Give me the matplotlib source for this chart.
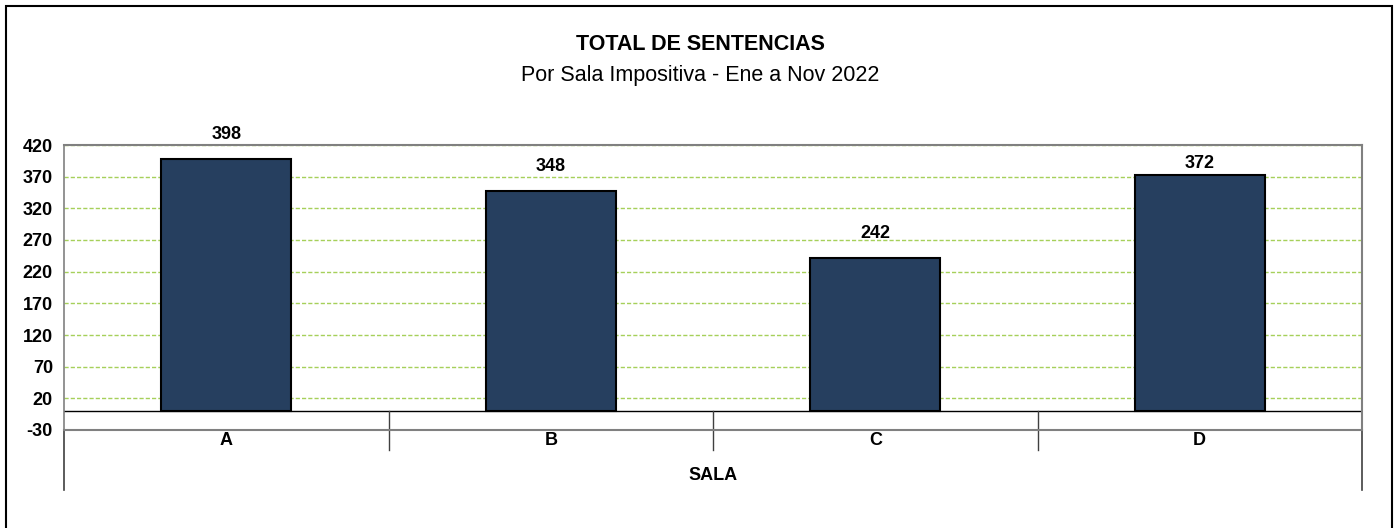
import matplotlib.pyplot as plt
from matplotlib import font_manager
from matplotlib.patches import Rectangle

salas = ['A', 'B', 'C', 'D']
sentencias = [398, 348, 242, 372]
yticks = [-30, 20, 70, 120, 170, 220, 270, 320, 370, 420]

names = {f.name for f in font_manager.fontManager.ttflist}
fam = 'Liberation Sans Narrow' if 'Liberation Sans Narrow' in names else 'Liberation Sans'
plt.rcParams['font.family'] = [fam, 'DejaVu Sans']

fig = plt.figure(figsize=(13.99, 5.28), dpi=100)
ax = fig.add_axes([64 / 1399, 1 - 430 / 528, (1362 - 64) / 1399, 285 / 528])

x = range(len(salas))
bars = ax.bar(x, sentencias, width=0.4, color='#263f5f', edgecolor='black', linewidth=1.5, zorder=3)
# label gap above each bar (the last one sits closer, as in the original)
gaps = [38, 38, 38, 19]
for b, v, g in zip(bars, sentencias, gaps):
    ax.text(b.get_x() + b.get_width() / 2, v + g, str(v), ha='center', va='center',
            fontsize=13, fontweight='bold')

ax.set_xlim(-0.5, len(salas) - 0.5)
ax.set_ylim(-30, 420)
ax.set_yticks(yticks)
ax.set_yticklabels([str(t) for t in yticks], fontsize=13, fontweight='bold')
ax.tick_params(axis='y', length=0, pad=8)
ax.set_xticks([])
ax.yaxis.grid(True, color='#a6d05a', linestyle=(0, (3, 1.5)), linewidth=1)
ax.set_axisbelow(True)
for s in ['top', 'right', 'bottom']:
    ax.spines[s].set_color('#808080')
    ax.spines[s].set_linewidth(1.5)
ax.spines['left'].set_color('#808080')
ax.spines['left'].set_linewidth(1.2)
ax.axhline(0, color='black', linewidth=1, zorder=2)

# left / right lines continue below the plot
trans = ax.get_xaxis_transform()
ax.plot([-0.5, -0.5], [0, -60 / 285], transform=trans, color='#404040', lw=1.2, clip_on=False)
ax.plot([3.5, 3.5], [0, -60 / 285], transform=trans, color='#404040', lw=1.2, clip_on=False)
# category separators, from the zero line down
zero_frac = 30 / 450
for i in range(1, len(salas)):
    ax.plot([i - 0.5, i - 0.5], [zero_frac, -20 / 285], transform=trans,
            color='#404040', lw=1, clip_on=False)
for i, s in enumerate(salas):
    ax.text(i, -33, s, ha='center', va='top', fontsize=13, fontweight='bold')
ax.text(1.5, -46 / 285, 'SALA', transform=trans, ha='center', va='center',
        fontsize=13, fontweight='bold')

fig.text(700 / 1399, 1 - 45 / 528, 'TOTAL DE SENTENCIAS', ha='center', va='center',
         fontsize=15.5, fontweight='bold')
fig.text(700 / 1399, 1 - 75 / 528, 'Por Sala Impositiva - Ene a Nov 2022', ha='center',
         va='center', fontsize=15.5)

fig.patches.append(Rectangle((6 / 1399, -0.05), (1392 - 6) / 1399, 1.05 - 6.5 / 528,
                             transform=fig.transFigure, fill=False, edgecolor='black',
                             linewidth=1.5, clip_on=False))

fig.savefig('out.png', dpi=100)
